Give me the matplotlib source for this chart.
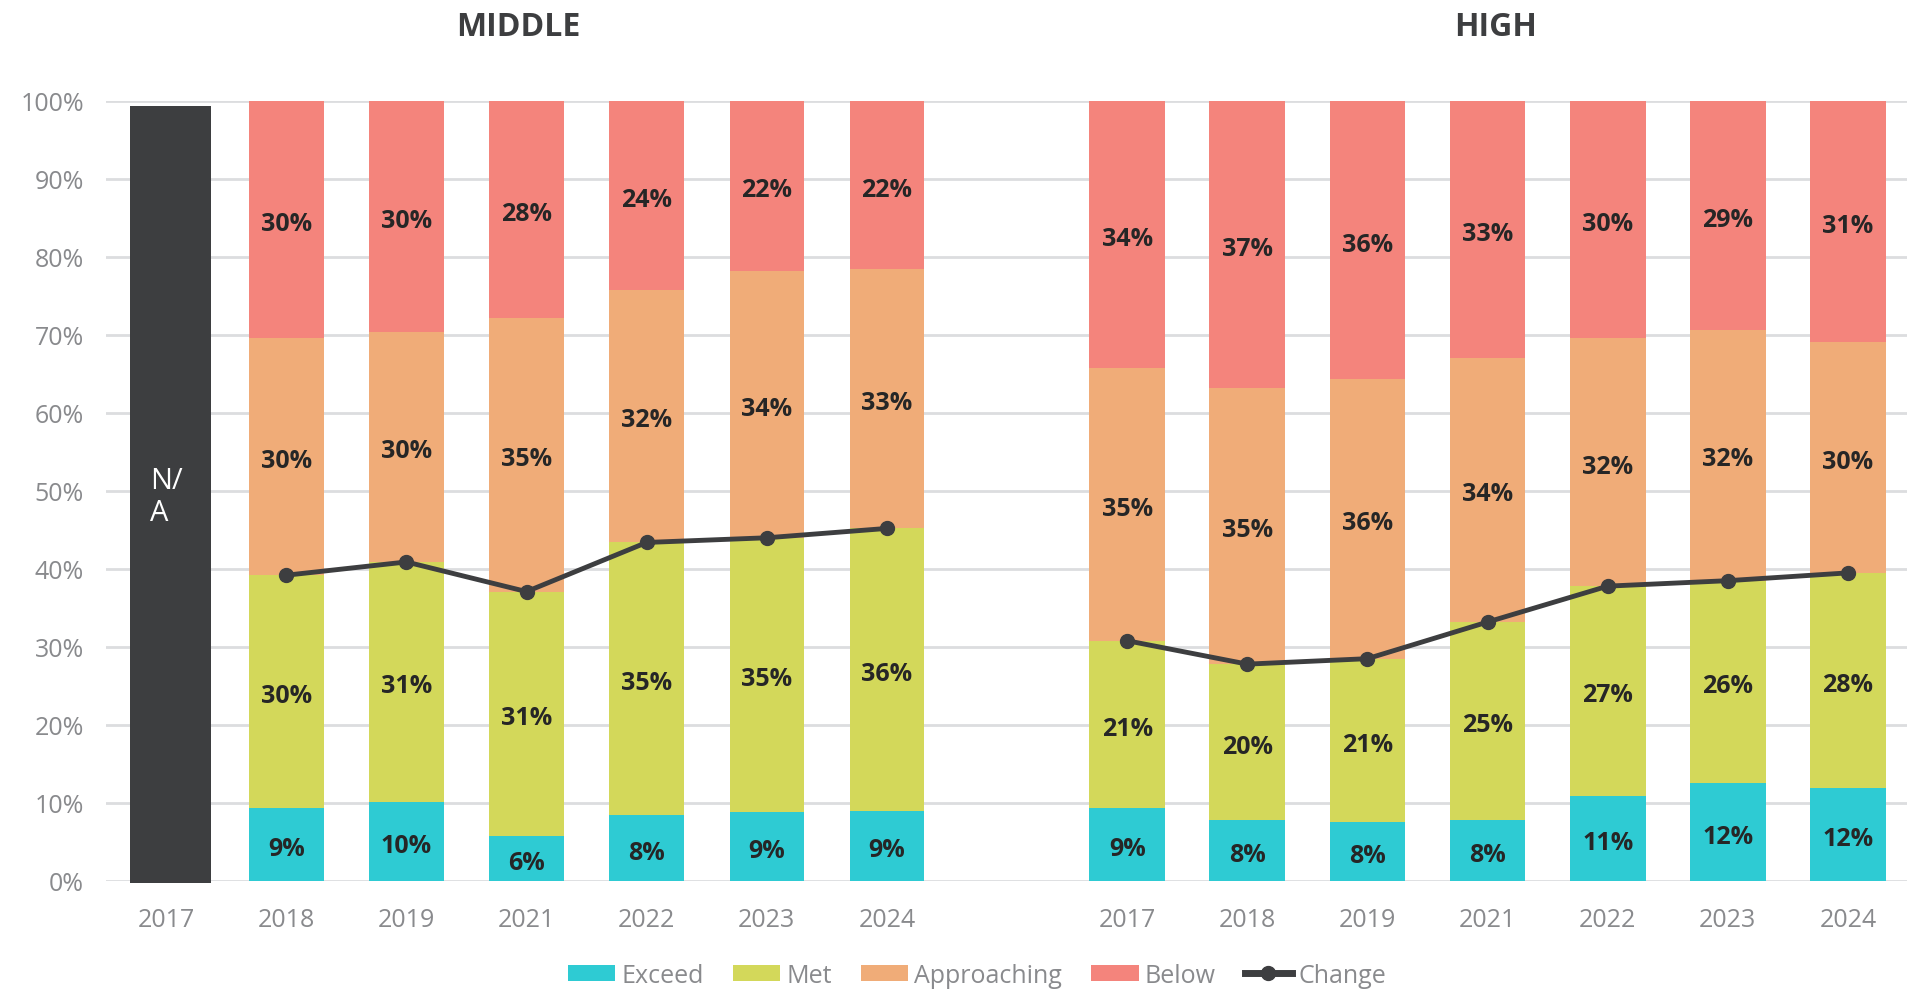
import numpy as np
import matplotlib.pyplot as plt
from matplotlib.patches import Patch
from matplotlib.lines import Line2D

# ---------------------------------------------------------------
# DATA (percent of students per level)
# ---------------------------------------------------------------
years_mid = ['2017', '2018', '2019', '2021', '2022', '2023', '2024']
years_high = ['2017', '2018', '2019', '2021', '2022', '2023', '2024']

# Middle: 2017 is N/A, the arrays below cover 2018..2024
mid_exceed = [9.4, 10.1, 5.8, 8.4, 8.9, 9.0]
mid_met = [29.8, 30.8, 31.3, 35.0, 35.1, 36.2]
mid_appr = [30.4, 29.5, 35.1, 32.4, 34.2, 33.2]
mid_below = [30.4, 29.6, 27.8, 24.2, 21.8, 21.6]
mid_change = [39.2, 40.9, 37.1, 43.4, 44.0, 45.2]

high_exceed = [9.4, 7.8, 7.5, 7.8, 10.9, 12.5, 11.9]
high_met = [21.4, 20.0, 21.0, 25.4, 26.9, 26.0, 27.6]
high_appr = [35.0, 35.4, 35.8, 33.9, 31.8, 32.2, 29.6]
high_below = [34.2, 36.8, 35.7, 32.9, 30.4, 29.3, 30.9]
high_change = [30.8, 27.8, 28.5, 33.2, 37.8, 38.5, 39.5]

levels = ['Exceed', 'Met', 'Approaching', 'Below']
colors = ['#2ECBD3', '#D3D85A', '#F0AC78', '#F4847C']
dark = '#3D3E40'
grey = '#898A8D'

plt.rcParams['font.family'] = ['Open Sans', 'DejaVu Sans']

# ---------------------------------------------------------------
# FIGURE
# ---------------------------------------------------------------
fig = plt.figure(figsize=(19.08, 9.95), dpi=100)
ax = fig.add_axes([0.0556, 0.1136, 0.9444, 0.7839])

x_mid = np.arange(len(years_mid))                 # 0..6
x_high = np.arange(len(years_high)) + len(years_mid) + 1   # 8..14

# grid
ax.set_ylim(0, 100)
ax.set_xlim(-0.5, x_high[-1] + 0.5)
ax.set_yticks(np.arange(0, 101, 10))
ax.yaxis.grid(True, color='#DCDDDF', linewidth=2)
ax.set_axisbelow(True)
for s in ax.spines.values():
    s.set_visible(False)


def stack(ax, xs, series, width):
    bottom = np.zeros(len(xs))
    for vals, col in zip(series, colors):
        vals = np.array(vals)
        ax.bar(xs, vals, width, bottom=bottom, color=col, zorder=2)
        for xi, b, v in zip(xs, bottom, vals):
            ax.text(xi, b + v / 2 - 0.5, f'{round(v)}%', ha='center', va='center',
                    fontsize=18, fontweight='bold', color='#262626', zorder=4)
        bottom = bottom + vals


# middle 2017 = N/A
ax.bar(x_mid[0] + 0.035, 99.6, 0.67, bottom=-0.3, color=dark, zorder=2, clip_on=False)
ax.text(x_mid[0] - 0.0, 49.3, 'N/\nA', ha='center', va='center', color='white',
        fontsize=21, multialignment='left', linespacing=1.15, zorder=4)

stack(ax, x_mid[1:], [mid_exceed, mid_met, mid_appr, mid_below], 0.62)
stack(ax, x_high, [high_exceed, high_met, high_appr, high_below], 0.63)

# change line
ax.plot(x_mid[1:], mid_change, color=dark, lw=3.5, marker='o', ms=10, zorder=5)
ax.plot(x_high, high_change, color=dark, lw=3.5, marker='o', ms=10, zorder=5)

# ticks
ax.set_xticks(list(x_mid) + list(x_high))
ax.set_xticklabels(years_mid + years_high)
ax.set_yticklabels([f'{v}%' for v in range(0, 101, 10)])
ax.tick_params(axis='both', length=0, labelsize=18, labelcolor=grey)
ax.tick_params(axis='x', pad=19)
ax.tick_params(axis='y', pad=16)

# group titles
title_y = 1.0 + 74 / 780
ax.text(2.93, title_y, 'MIDDLE', transform=ax.get_xaxis_transform(), ha='center',
        va='center', fontsize=23, fontweight='bold', color=dark)
ax.text(11.07, title_y, 'HIGH', transform=ax.get_xaxis_transform(), ha='center',
        va='center', fontsize=23, fontweight='bold', color=dark)

# legend
handles = [Patch(facecolor=c, label=l) for c, l in zip(colors, levels)]
handles.append(Line2D([0], [0], color=dark, lw=5, marker='o', ms=10, label='Change'))
leg = fig.legend(handles=handles, loc='center', bbox_to_anchor=(0.512, 0.019),
                 ncol=5, frameon=False, fontsize=18, handlelength=1.9,
                 handleheight=0.6, handletextpad=0.25, columnspacing=1.15)
for t in leg.get_texts():
    t.set_color(grey)

plt.savefig('out.png', dpi=100)
